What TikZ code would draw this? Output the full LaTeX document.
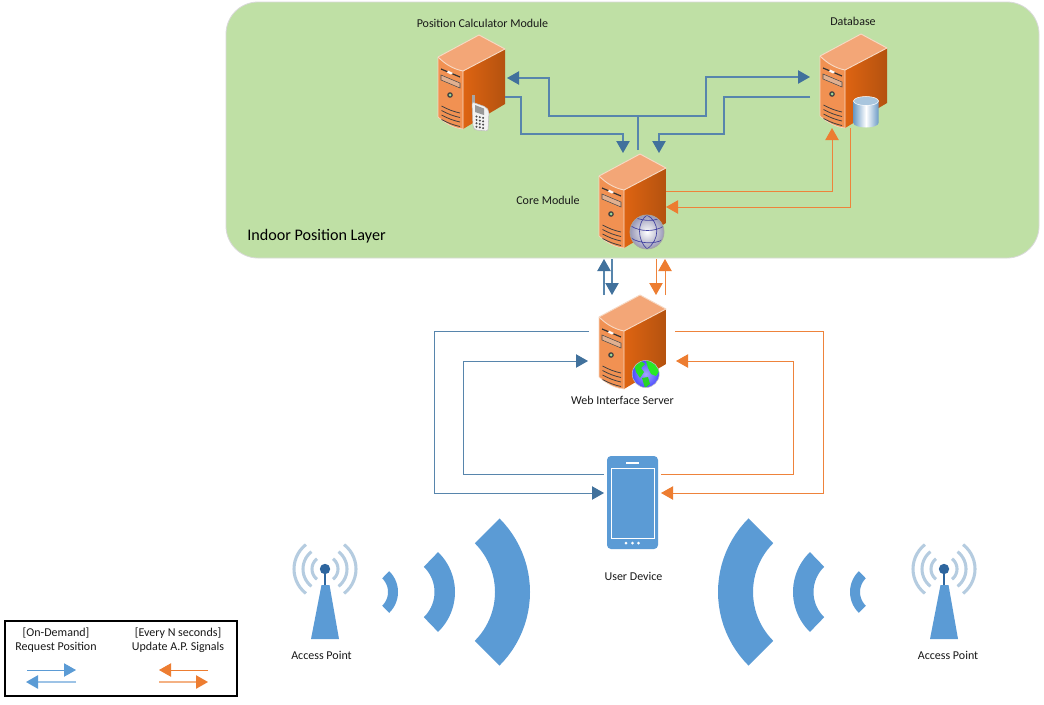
\documentclass[tikz,border=0pt]{standalone}
\usepackage{fontspec}
\setmainfont{Carlito}
\usetikzlibrary{arrows.meta,calc}
\definecolor{layerg}{HTML}{BFE0A5}
\definecolor{lnblue}{HTML}{5785AC}
\definecolor{hdblue}{HTML}{41719C}
\definecolor{lnor}{HTML}{ED7D31}
\definecolor{lblue}{HTML}{5B9BD5}
\definecolor{lblue2}{HTML}{9DC3E6}
\definecolor{lor2}{HTML}{F4B183}
\definecolor{sfront}{HTML}{F19152}
\definecolor{stop}{HTML}{F3A677}
\definecolor{sr1}{HTML}{DE6412}
\definecolor{sr2}{HTML}{B4520F}
\definecolor{sedge}{HTML}{F7D9C4}
\definecolor{towerd}{HTML}{2E669F}
\definecolor{towerl}{HTML}{B5CCE0}
\definecolor{cyls}{HTML}{6C9BC6}
\definecolor{cylt}{HTML}{A9C6DE}
\tikzset{
  x=0.75pt,y=-0.75pt,
  holder/.style={minimum width=50.25pt,minimum height=70.5pt,inner sep=0pt,outer sep=0pt},
  lbl/.style={font=\fontsize{9}{10.5}\selectfont,inner sep=0pt,text=black!90,align=center},
  blueconn/.style={draw=lnblue,line width=0.85pt,-{Triangle[length=9pt,width=10pt,fill=hdblue,color=hdblue]}},
  blueplain/.style={draw=lnblue,line width=0.85pt},
  orconn/.style={draw=lnor!95!white,line width=0.75pt,-{Triangle[length=9pt,width=10pt,fill=lnor,color=lnor]}},
  legblue/.style={draw=lblue,line width=0.7pt,-{Triangle[length=9pt,width=10pt,fill=lblue,color=lblue]}},
  legblue2/.style={draw=lblue2,line width=1.1pt,-{Triangle[length=9pt,width=10pt,fill=lblue,color=lblue]}},
  legor/.style={draw=lnor,line width=0.7pt,-{Triangle[length=9pt,width=10pt,fill=lnor,color=lnor]}},
  legor2/.style={draw=lor2,line width=1.1pt,-{Triangle[length=9pt,width=10pt,fill=lnor,color=lnor]}},
}
% server drawing, origin = top-left of its box
\newcommand{\serverbody}[2]{%
\begin{scope}[shift={(#1,#2)}]
  \fill[stop] (41,0) -- (67,14) -- (25,36) .. controls (15,34) and (7,29) .. (0,22) -- cycle;
  \shade[left color=sr1,right color=sr2] (25,36) -- (67,14) -- (67,69) -- (25,94) -- cycle;
  \fill[sfront] (0,22) .. controls (7,29) and (15,34) .. (25,36) -- (25,94) .. controls (15,93) and (7,88) .. (0,82) -- cycle;
  \draw[sedge,line width=0.7pt,line join=round] (0,22) -- (41,0) -- (67,14) -- (25,36) .. controls (15,34) and (7,29) .. (0,22);
  \draw[sedge,line width=0.5pt] (25,36) -- (25,94) .. controls (15,93) and (7,88) .. (0,82) -- (0,22);
  \draw[black!80,line width=0.9pt] (3,34) -- (22,42);
  \fill[white] (10,35.5) -- (15,38) -- (13,39.5) -- (9,37.5) -- cycle;
  \draw[black!70,fill=black!15!sfront!60!white,line width=0.4pt] (3,40) -- (22,48) -- (22,53) -- (3,45) -- cycle;
  \fill[black!75] (12,60) circle (2.8);
  \fill[green!30!white!85!black] (12,60) circle (1.5);
  \foreach \d in {0,4.5,9,13.5}{\draw[black!75,line width=0.6pt] (3.5,71+\d) .. controls (9,74+\d) and (15,76.5+\d) .. (22,78+\d);}
\end{scope}}
\newcommand{\sector}[6]{% cx cy ri ro a b
  \fill[lblue] plot[variable=\t,domain=#5:#6,samples=25] ({#1+#4*cos(\t)},{#2+#4*sin(\t)}) -- plot[variable=\t,domain=#6:#5,samples=25] ({#1+#3*cos(\t)},{#2+#3*sin(\t)}) -- cycle;}
\newcommand{\tower}[2]{%
  \foreach \r in {13,22,31}{
    \draw[towerl,line width=2.3pt] plot[variable=\t,domain=-52:52,samples=15] ({#1+\r*cos(\t)},{#2+\r*sin(\t)});
    \draw[towerl,line width=2.3pt] plot[variable=\t,domain=128:232,samples=15] ({#1+\r*cos(\t)},{#2+\r*sin(\t)});
  }
  \fill[lblue] (#1-3.5,#2+16) -- (#1+4.5,#2+16) -- (#1+14,#2+70) -- (#1-14,#2+70) -- cycle;
  \draw[towerd,line width=2.2pt] (#1,#2) -- (#1,#2+16);
  \fill[towerd] (#1,#2) circle (5.2);}
\begin{document}
\begin{tikzpicture}[line cap=butt]
\useasboundingbox (0,0) rectangle (1044,704);
\fill[white] (0,0) rectangle (1044,704);
% layer
\node[draw=white!85!black,fill=layerg,line width=0.6pt,rounded corners=24pt,minimum width=609.75pt,minimum height=192pt,inner sep=0pt] (layer) at (632.5,130) {};
\node[font=\fontsize{12.1}{14}\selectfont,inner sep=0pt,anchor=west] (layertxt) at (247,236) {Indoor Position Layer};
% holders
\node[holder] (calc) at (471.5,82) {};
\node[holder] (core) at (632.5,201) {};
\node[holder] (db) at (853.5,81) {};
\node[holder] (web) at (632.5,342) {};
\node[minimum width=38.25pt,minimum height=69.75pt,inner sep=0pt,outer sep=0pt,fill=lblue,rounded corners=3pt] (dev) at (632.5,502.5) {};
% labels
\node[lbl] (calcl) at (482.5,23) {Position Calculator Module};
\node[lbl] (dbl) at (853,21) {Database};
\node[lbl] (corel) at (548,200) {Core Module};
\node[lbl] (webl) at (622.5,400) {Web Interface Server};
\node[lbl] (devl) at (633.5,576) {User Device};
\node[lbl] (apl) at (321.5,655) {Access Point};
\node[lbl] (apr) at (948,655) {Access Point};
% servers
\serverbody{438}{35}
\serverbody{599}{154}
\serverbody{820}{34}
\serverbody{599}{295}
% phone overlay on calc
\fill[black!35] (472,95) rectangle (474.5,103);
\draw[black!25,fill=white!95!black,rounded corners=1.5pt,line width=0.4pt] (472,102) -- (486,107) -- (489,111) -- (488,131) -- (475,130) -- (473,127) -- cycle;
\fill[black!40] (475,105) -- (484,108.5) -- (484,115) -- (475,112) -- cycle;
\foreach \i in {0,1,2,3}{\foreach \j in {0,1,2}{\fill[black!70] (476.5+3.3*\j,116.5+3.4*\i+0.7*\j) circle (1.1);}}
% globe on core
\shade[inner color=white,outer color=blue!30!black!40!white] (647,232) circle (17);
\begin{scope}
  \clip (647,232) circle (17);
  \draw[blue!50!black!75!white,line width=0.5pt] (647,215) .. controls (637,222) and (637,240) .. (647,249) (647,215) .. controls (660,222) and (660,240) .. (647,249) (631,226) .. controls (640,232) and (655,232) .. (664,226) (631,238) .. controls (640,244) and (655,244) .. (662,240) (636,218) .. controls (645,221) and (652,221) .. (658,219);
\end{scope}
\draw[black!35,line width=0.6pt] (647,232) circle (17);
% database cylinder
\shade[left color=cyls,right color=cyls,middle color=white] (853.5,101) -- (853.5,123) arc[start angle=180,end angle=360,x radius=12.5,y radius=-4.5] -- (878.5,101) -- cycle;
\fill[cylt] (866,101) ellipse (12.5 and 4.5);
\draw[white,line width=0.4pt] (866,101) ellipse (12.5 and 4.5);
% earth on web
\shade[inner color=blue!35!white,outer color=blue!70!white] (645.7,374) circle (13.5);
\begin{scope}
  \clip (645.7,374) circle (13.5);
  \fill[green!85!black!85!white] (634,364) -- (641,361) -- (645,364) -- (641,368) -- (644,372) -- (640,378) -- (636,372) -- cycle;
  \fill[green!90!black!85!white] (646,361) -- (656,362) -- (660,370) -- (656,376) -- (651,374) -- (648,368) -- cycle;
  \fill[green!80!black!85!white] (642,378) -- (648,377) -- (650,384) -- (645,388) -- cycle;
\end{scope}
\draw[black!25,line width=0.4pt] (645.7,374) circle (13.5);
% device details
\draw[white,line width=0.75pt] (611,468) rectangle (654,538);
\draw[white,line width=0.9pt] (626,463) -- (639,463);
\foreach \dx in {626,632.5,638.5}{\fill[white] (\dx,543) circle (1.5);}
% connectors
\coordinate (hub) at (638,116);
\draw[blueplain] ([shift={(5.5,-4)}]core.north) -- (hub);
\draw[blueconn] (hub) -| (549,78) -- ([shift={(2,-4)}]calc.east);
\draw[blueconn] (hub) -| (706,77) -- ([shift={(-10,-4)}]db.west);
\draw[blueconn] ([shift={(0,15)}]calc.east) -| (521,134) -| ([shift={(-9.5,-1)}]core.north);
\draw[blueconn] ([shift={(-10,16)}]db.west) -| (724,134) -| ([shift={(26.5,-1)}]core.north);
\draw[orconn] ([shift={(0,-10)}]core.east) -| ([shift={(-21.5,0)}]db.south);
\draw[orconn] ([shift={(-3.5,0)}]db.south) |- ([shift={(0,6)}]core.east);
% core <-> web
\draw[blueconn] ([shift={(-28.5,0)}]web.north) -- ([shift={(-28.5,11)}]core.south);
\draw[blueconn] ([shift={(-20.5,11)}]core.south) -- ([shift={(-20.5,0)}]web.north);
\draw[orconn] ([shift={(23.5,11)}]core.south) -- ([shift={(23.5,0)}]web.north);
\draw[orconn] ([shift={(32.5,0)}]web.north) -- ([shift={(32.5,11)}]core.south);
% web <-> device
\draw[blueconn,line width=0.75pt] ([shift={(-10,-11)}]web.west) -| (434,493) -- ([shift={(-3,-9.5)}]dev.west);
\draw[blueconn,line width=0.75pt] ([shift={(-3,-28.5)}]dev.west) -| (463,361) -- ([shift={(-11,19)}]web.west);
\draw[orconn] ([shift={(9,-11)}]web.east) -| (823,493) -- ([shift={(3,-9.5)}]dev.east);
\draw[orconn] ([shift={(3,-28.5)}]dev.east) -| (793,361) -- ([shift={(10,19)}]web.east);
% signal sectors
\sector{426}{592}{69}{104}{-45}{45}
\sector{399.5}{592}{35}{55.5}{-46}{46}
\sector{369}{592}{19}{29}{-46}{46}
\sector{822}{592}{69}{104}{135}{225}
\sector{848.5}{592}{35}{55.5}{134}{226}
\sector{879}{592}{19}{29}{134}{226}
% towers
\tower{325}{569}
\tower{944}{569}
% legend
\node[draw=black,line width=1.5pt,minimum width=174pt,minimum height=56.25pt,inner sep=0pt] (leg) at (121,658.5) {};
\node[lbl] (legl) at (56,640) {[On-Demand]\\Request Position};
\node[lbl] (legr) at (178,640) {[Every N seconds]\\Update A.P. Signals};
\coordinate (la1) at (27,670); \coordinate (la2) at (76,670);
\coordinate (la3) at (76,682); \coordinate (la4) at (26,682);
\coordinate (lb1) at (208,670); \coordinate (lb2) at (159,670);
\coordinate (lb3) at (159,682); \coordinate (lb4) at (208,682);
\draw[legblue] (la1) -- (la2);
\draw[legblue2] (la3) -- (la4);
\draw[legor] (lb1) -- (lb2);
\draw[legor2] (lb3) -- (lb4);
\end{tikzpicture}
\end{document}
